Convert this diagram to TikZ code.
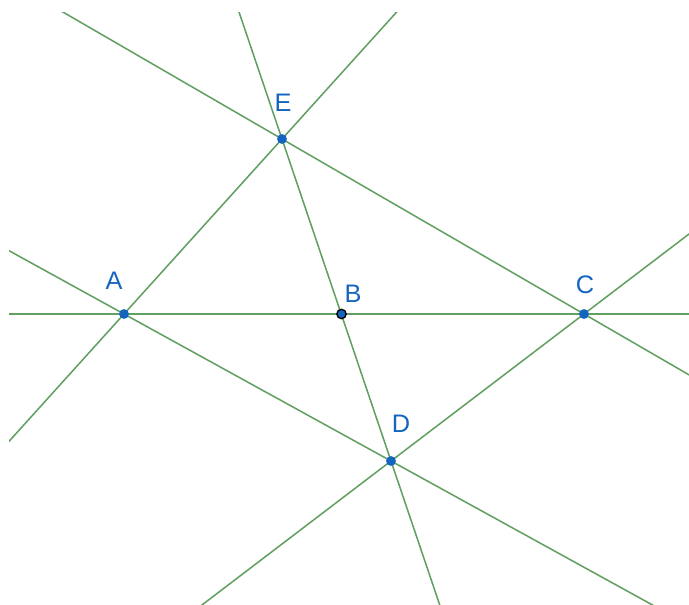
\documentclass[tikz,border=0pt]{standalone}
\usepackage{fontspec}
\newfontfamily\lblfont{Liberation Sans}
\usetikzlibrary{calc}
\definecolor{GeoLine}{HTML}{62A062}
\definecolor{GeoBlue}{HTML}{1565C0}

\begin{document}
\begin{tikzpicture}[
  x=0.75pt,y=-0.75pt,
  gline/.style={draw=GeoLine,line width=1.15pt},
  pt/.style={circle,fill=GeoBlue,inner sep=0pt,minimum size=7.4pt},
  freept/.style={pt,draw=black,line width=1pt,minimum size=7pt},
  lbl/.style={font=\lblfont\fontsize{19}{21}\selectfont,text=GeoBlue,inner sep=0pt},
]
\useasboundingbox (0,0) rectangle (689,605);
% points
\coordinate (A) at (124,314);
\coordinate (B) at (341.5,314);
\coordinate (C) at (584,314);
\coordinate (D) at (391,461);
\coordinate (E) at (282,139);
% lines, cut to the view
\begin{scope}
\clip (9,13) rectangle (689,605);
\draw[gline] ($(A)!-3!(C)$) -- ($(A)!3!(C)$);
\draw[gline] ($(A)!-3!(E)$) -- ($(A)!3!(E)$);
\draw[gline] ($(E)!-3!(C)$) -- ($(E)!3!(C)$);
\draw[gline] ($(A)!-3!(D)$) -- ($(A)!3!(D)$);
\draw[gline] ($(C)!-3!(D)$) -- ($(C)!3!(D)$);
\draw[gline] ($(E)!-3!(D)$) -- ($(E)!3!(D)$);
\end{scope}
\node[pt] (pA) at (A) {};
\node[freept] (pB) at (B) {};
\node[pt] (pC) at (C) {};
\node[pt] (pD) at (D) {};
\node[pt] (pE) at (E) {};
\node[lbl] (lA) at (114,281) {A};
\node[lbl] (lB) at (353,294) {B};
\node[lbl] (lC) at (585,285) {C};
\node[lbl] (lD) at (401,424) {D};
\node[lbl] (lE) at (283,103) {E};
\end{tikzpicture}
\end{document}
